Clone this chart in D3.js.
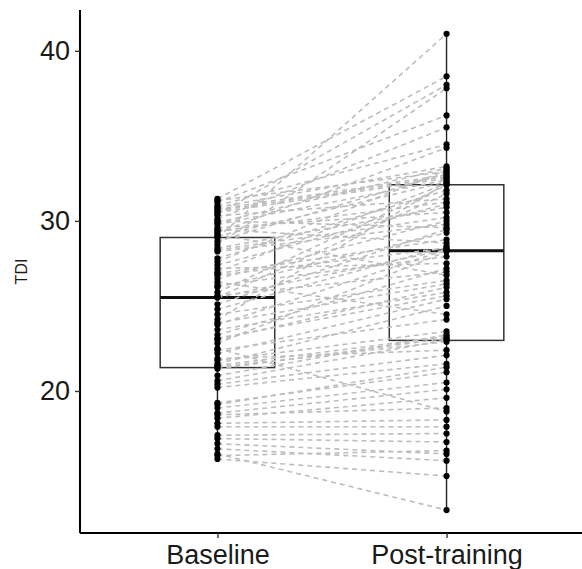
<!DOCTYPE html>
<html>
<head>
<meta charset="utf-8">
<script src="https://cdn.jsdelivr.net/npm/d3@7"></script>
<style>
  body { margin: 0; background: #fff; }
  svg { display: block; font-family: "Liberation Sans", Arial, sans-serif; }
</style>
</head>
<body>
<div id="chart"></div>
<script>
// categories on the x axis
const groups = ['Baseline', 'Post-training'];

// paired TDI values, one entry per subject (same order in both arrays)
const baseline = [
  31.3, 31.1, 30.9, 30.8, 30.6, 30.4, 30.3, 30.1, 30.0, 29.8, 29.6, 29.5, 29.3, 29.2, 29.1,
  29.0, 28.6, 28.4, 28.2, 27.6, 27.4, 27.2, 27.0, 26.8, 26.6, 26.4, 26.1, 25.8, 25.6, 25.5,
  25.5, 24.8, 24.5, 24.2, 23.9, 23.6, 23.3, 23.0, 22.8, 22.5, 22.2, 21.8, 21.6, 21.5, 21.4,
  21.3, 20.6, 20.4, 20.2, 19.3, 19.0, 18.7, 18.4, 18.1, 17.9, 17.2, 16.9, 16.6, 16.3, 16.0,
  31.2, 30.7, 30.5, 29.9, 29.4, 28.8, 28.3, 27.8, 26.9, 26.2,
  25.1, 24.0, 23.1, 22.4, 21.9, 20.9, 19.2, 18.6, 17.4, 16.2
];
const postTraining = [
  38.5, 36.2, 34.5, 33.2, 32.6, 38.0, 31.3, 35.5, 29.6, 32.4, 30.5, 28.7, 34.3, 26.8, 32.3,
  41.0, 37.8, 30.8, 29.8, 33.0, 31.0, 27.5, 32.2, 28.4, 30.0, 24.5, 29.3, 32.1, 27.0, 28.3,
  31.6, 28.5, 26.5, 32.2, 28.3, 25.8, 27.2, 26.1, 28.2, 18.8, 25.4, 23.5, 25.0, 23.2, 22.9,
  23.1, 23.0, 22.1, 21.6, 21.1, 20.5, 20.1, 19.6, 18.3, 17.9, 17.0, 16.3, 15.9, 13.0, 15.0,
  32.9, 32.7, 32.5, 33.1, 31.1, 32.8, 30.2, 31.8, 28.9, 27.9,
  29.5, 26.3, 25.6, 24.2, 22.4, 23.3, 21.4, 19.0, 17.5, 16.5
];

const yTicks = [20, 30, 40];

const widthSvg = 582;
const heightSvg = 569;
const margin = { top: 10, right: -2, bottom: 36, left: 80 };

const svg = d3.select('#chart').append('svg')
  .attr('width', widthSvg)
  .attr('height', heightSvg);

const scaleX = d3.scalePoint()
  .domain(groups)
  .range([margin.left, widthSvg - margin.right])
  .padding(0.6);

const scaleY = d3.scaleLinear()
  .domain([11.65, 42.4])
  .range([heightSvg - margin.bottom, margin.top]);

const boxWidth = scaleX.step() * 0.5;

const series = [baseline, postTraining];

const stats = series.map((vals, i) => {
  const s = vals.slice().sort(d3.ascending);
  const q1 = d3.quantile(s, 0.25);
  const med = d3.quantile(s, 0.5);
  const q3 = d3.quantile(s, 0.75);
  const iqr = q3 - q1;
  const lo = d3.min(s.filter(v => v >= q1 - 1.5 * iqr));
  const hi = d3.max(s.filter(v => v <= q3 + 1.5 * iqr));
  return { key: groups[i], q1, med, q3, lo, hi };
});

// boxes
const groupBox = svg.append('g');

groupBox.selectAll('line.whisker-lo')
  .data(stats)
  .enter().append('line')
  .attr('x1', d => scaleX(d.key))
  .attr('x2', d => scaleX(d.key))
  .attr('y1', d => scaleY(d.q1))
  .attr('y2', d => scaleY(d.lo))
  .attr('stroke', '#222')
  .attr('stroke-width', 1.4);

groupBox.selectAll('line.whisker-hi')
  .data(stats)
  .enter().append('line')
  .attr('x1', d => scaleX(d.key))
  .attr('x2', d => scaleX(d.key))
  .attr('y1', d => scaleY(d.q3))
  .attr('y2', d => scaleY(d.hi))
  .attr('stroke', '#222')
  .attr('stroke-width', 1.4);

groupBox.selectAll('rect')
  .data(stats)
  .enter().append('rect')
  .attr('x', d => scaleX(d.key) - boxWidth / 2)
  .attr('width', boxWidth)
  .attr('y', d => scaleY(d.q3))
  .attr('height', d => scaleY(d.q1) - scaleY(d.q3))
  .attr('fill', '#fff')
  .attr('stroke', '#333')
  .attr('stroke-width', 1.5);

groupBox.selectAll('line.median')
  .data(stats)
  .enter().append('line')
  .attr('x1', d => scaleX(d.key) - boxWidth / 2)
  .attr('x2', d => scaleX(d.key) + boxWidth / 2)
  .attr('y1', d => scaleY(d.med))
  .attr('y2', d => scaleY(d.med))
  .attr('stroke', '#111')
  .attr('stroke-width', 3);

// paired lines
svg.append('g').selectAll('line')
  .data(d3.range(baseline.length))
  .enter().append('line')
  .attr('x1', scaleX(groups[0]))
  .attr('x2', scaleX(groups[1]))
  .attr('y1', i => scaleY(baseline[i]))
  .attr('y2', i => scaleY(postTraining[i]))
  .attr('stroke', '#bdbdbd')
  .attr('stroke-width', 1.6)
  .attr('stroke-dasharray', '5,4');

// points
const groupPoints = svg.append('g');
series.forEach((vals, i) => {
  groupPoints.selectAll(null)
    .data(vals)
    .enter().append('circle')
    .attr('cx', scaleX(groups[i]))
    .attr('cy', d => scaleY(d))
    .attr('r', 3.1)
    .attr('fill', '#000');
});

// axes
const axisY = d3.axisLeft(scaleY)
  .tickValues(yTicks)
  .tickSize(5)
  .tickPadding(5);

const axisX = d3.axisBottom(scaleX)
  .tickSize(5)
  .tickPadding(7);

const groupAxisY = svg.append('g')
  .attr('transform', `translate(${margin.left}, 0)`)
  .call(axisY);

const groupAxisX = svg.append('g')
  .attr('transform', `translate(0, ${heightSvg - margin.bottom})`)
  .call(axisX);

[groupAxisX, groupAxisY].forEach(g => {
  g.select('.domain')
    .attr('stroke', '#000')
    .attr('stroke-width', 2);
  g.selectAll('.tick line')
    .attr('stroke', '#333')
    .attr('stroke-width', 1.4);
  g.selectAll('.tick text')
    .attr('fill', '#1a1a1a')
    .style('font-size', '27px')
    .style('font-family', '"Liberation Sans", Arial, sans-serif');
});

groupAxisY.select('.domain')
  .attr('d', `M0,${scaleY.range()[0]}V${scaleY.range()[1]}`);
groupAxisX.select('.domain')
  .attr('d', `M${margin.left},0H${widthSvg}`);

svg.append('text')
  .attr('transform', `translate(27, ${(scaleY.range()[0] + scaleY.range()[1]) / 2}) rotate(-90)`)
  .attr('text-anchor', 'middle')
  .style('font-size', '16px')
  .attr('fill', '#1a1a1a')
  .text('TDI');
</script>
</body>
</html>
